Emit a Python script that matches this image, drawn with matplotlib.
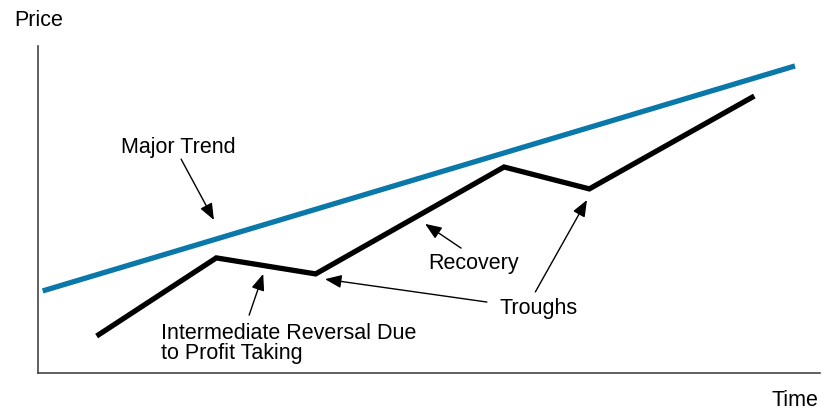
import matplotlib
matplotlib.use('Agg')
import matplotlib.pyplot as plt

# time / price in arbitrary units (0-100 on each axis)
trend_x = [0.6, 96.8]
trend_y = [25.1, 93.9]

price_x = [7.5, 22.8, 35.5, 59.6, 70.5, 91.6]
price_y = [11.3, 35.2, 30.3, 63.0, 56.3, 84.7]

# annotations: text, text position, arrow tails and heads
labels = ["Major Trend", "Intermediate Reversal Due\nto Profit Taking", "Recovery", "Troughs"]
label_pos = [(10.6, 68.9), (15.7, 9.0), (49.9, 33.6), (59.0, 19.8)]
arrows = [
    ((18.3, 65.4), (22.5, 46.8)),
    ((27.0, 17.7), (28.8, 30.3)),
    ((54.1, 38.2), (49.5, 45.6)),
    ((57.4, 21.7), (36.7, 28.7)),
    ((63.6, 24.8), (70.2, 52.9)),
]

plt.rcParams['font.family'] = ['Liberation Sans', 'DejaVu Sans']

fig = plt.figure(figsize=(8.22, 4.11), dpi=100)
ax = fig.add_axes([38 / 822, 38 / 411, 782 / 822, 327 / 411])
ax.set_xlim(0, 100)
ax.set_ylim(0, 100)

ax.plot(trend_x, trend_y, color='#0a78a8', lw=3.8, solid_capstyle='butt')
ax.plot(price_x, price_y, color='black', lw=3.8, solid_capstyle='butt', solid_joinstyle='miter')

for txt, (tx, ty) in zip(labels, label_pos):
    ax.text(tx, ty, txt, fontsize=15.5, ha='left', va='center', linespacing=0.95)

for tail, head in arrows:
    ax.annotate('', xy=head, xytext=tail,
                arrowprops=dict(arrowstyle='-|>,head_length=0.5,head_width=0.2',
                                mutation_scale=20, lw=1.0, color='black',
                                shrinkA=0, shrinkB=0))

for s in ['top', 'right']:
    ax.spines[s].set_visible(False)
for s in ['left', 'bottom']:
    ax.spines[s].set_color('#444444')
    ax.spines[s].set_linewidth(1.2)
ax.set_xticks([])
ax.set_yticks([])

fig.text(14 / 822, 1 - 21 / 411, "Price", fontsize=15.5, ha='left', va='center')
fig.text(818 / 822, 1 - 400 / 411, "Time", fontsize=15.5, ha='right', va='center')

fig.savefig('out.png', dpi=100)
